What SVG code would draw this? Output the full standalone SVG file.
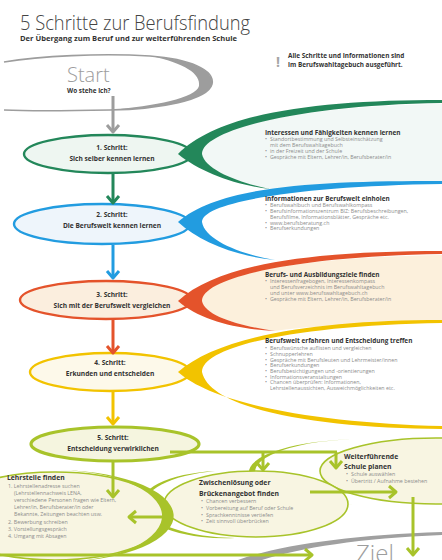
<svg xmlns="http://www.w3.org/2000/svg" width="442" height="560" viewBox="0 0 442 560">
<defs>
<style>
text { font-family: "Open Sans", "Liberation Sans", sans-serif; }
.ti { font-size: 21px; font-weight: 300; fill: #444; }
.sub { font-size: 6.2px; font-weight: bold; fill: #333; }
.st { font-size: 6.6px; font-weight: bold; fill: #333; text-anchor: middle; }
.hd { font-size: 6.4px; font-weight: bold; fill: #333; }
.bh { font-size: 6.8px; font-weight: bold; fill: #333; }
.bl { font-size: 5.3px; fill: #8c8c8c; }
.ln { fill: none; stroke-width: 3; }
.el { stroke-width: 2.4; }
</style>
<marker id="mg" markerUnits="userSpaceOnUse" markerWidth="16" markerHeight="16" refX="9" refY="8" orient="auto"><path d="M2,2 L9,8 L2,14" fill="none" stroke="#9d9d9d" stroke-width="3" stroke-linejoin="round"/></marker>
<marker id="mgr" markerUnits="userSpaceOnUse" markerWidth="16" markerHeight="16" refX="9" refY="8" orient="auto"><path d="M2,2 L9,8 L2,14" fill="none" stroke="#23875a" stroke-width="3" stroke-linejoin="round"/></marker>
<marker id="mb" markerUnits="userSpaceOnUse" markerWidth="16" markerHeight="16" refX="9" refY="8" orient="auto"><path d="M2,2 L9,8 L2,14" fill="none" stroke="#229ce0" stroke-width="3" stroke-linejoin="round"/></marker>
<marker id="mo" markerUnits="userSpaceOnUse" markerWidth="16" markerHeight="16" refX="9" refY="8" orient="auto"><path d="M2,2 L9,8 L2,14" fill="none" stroke="#e4532b" stroke-width="3" stroke-linejoin="round"/></marker>
<marker id="my" markerUnits="userSpaceOnUse" markerWidth="16" markerHeight="16" refX="9" refY="8" orient="auto"><path d="M2,2 L9,8 L2,14" fill="none" stroke="#f2c300" stroke-width="3" stroke-linejoin="round"/></marker>
<marker id="ml" markerUnits="userSpaceOnUse" markerWidth="16" markerHeight="16" refX="9" refY="8" orient="auto"><path d="M2,2 L9,8 L2,14" fill="none" stroke="#a8c32a" stroke-width="3" stroke-linejoin="round"/></marker>
</defs>
<rect width="442" height="560" fill="#ffffff"/>

<!-- title -->
<g id="title">
<text class="ti" x="20" y="30" textLength="230" lengthAdjust="spacingAndGlyphs">5 Schritte zur Berufsfindung</text>
<text class="sub" x="20" y="41" textLength="217" lengthAdjust="spacingAndGlyphs">Der Übergang zum Beruf und zur weiterführenden Schule</text>
</g>

<g id="note">
<text x="276" y="67" style="font-size:14px;font-weight:bold;fill:#a5a5a5">!</text>
<text class="hd" x="288" y="58">Alle Schritte und Informationen sind</text>
<text class="hd" x="288" y="67">im Berufswahltagebuch ausgeführt.</text>
</g>

<!-- content backgrounds -->
<path d="M202,154 C200,128 300,106 442,104 L442,183 C360,184 300,186 270,189 C240,183 205,170 202,154 Z" fill="#f2f8f6"/>
<path d="M202,301 C200,275 300,257 442,255 L442,322 C360,323 300,327 275,331 C240,326 205,316 202,301 Z" fill="#fcf0dc"/>

<!-- start -->
<g id="start">
<path d="M4,62 C40,56 100,53 150,56 C190,59 215,70 212,84 C208,100 160,109 110,110 C60,111 25,111 4,110" fill="none" stroke="#9d9d9d" stroke-width="1.6"/>
<path d="M150,56 C190,59 215,70 212,84 C208,100 160,109 110,110 C155,106 196,98 199,86 C201,74 185,63 150,56 Z" fill="#9d9d9d"/>
<text x="67" y="82" style="font-size:20px;font-weight:300;fill:#9d9d9d">Start</text>
<text class="hd" x="67" y="93">Wo stehe ich?</text>
</g>

<!-- step 1 -->
<g id="step1">
<ellipse cx="108" cy="154" rx="84" ry="19" fill="#eef6f1" stroke="#23875a" class="el"/>
<path d="M442,100 C320,100 220,112 178,154 C200,172 235,185 270,189 C240,183 205,170 202,154 C202,130 300,105 442,103 Z" fill="#23875a"/>
<text class="st" x="112" y="150">1. Schritt:</text>
<text class="st" x="112" y="161">Sich selber kennen lernen</text>
<text class="hd" x="265" y="135">Interessen und Fähigkeiten kennen lernen</text>
<text class="bl" x="265" y="141">•</text><text class="bl" x="270" y="141">Standortbestimmung und Selbsteinschätzung</text>
<text class="bl" x="270" y="147">mit dem Berufswahltagebuch</text>
<text class="bl" x="265" y="153">•</text><text class="bl" x="270" y="153">in der Freizeit und der Schule</text>
<text class="bl" x="265" y="159">•</text><text class="bl" x="270" y="159">Gespräche mit Eltern, Lehrer/in, Berufsberater/in</text>
</g>

<!-- step 2 -->
<g id="step2">
<ellipse cx="102" cy="224" rx="88" ry="20" fill="#eef5fb" stroke="#229ce0" class="el"/>
<path d="M442,181 C320,181 220,185 178,222 C200,242 235,256 275,260 C240,254 205,240 202,222 C202,202 300,186 442,184 Z" fill="#229ce0"/>
<text class="st" x="112" y="217">2. Schritt:</text>
<text class="st" x="112" y="228">Die Berufswelt kennen lernen</text>
<text class="hd" x="265" y="201">Informationen zur Berufswelt einholen</text>
<text class="bl" x="265" y="207">•</text><text class="bl" x="270" y="207">Berufswahlbuch und Berufswahlkompass</text>
<text class="bl" x="265" y="213">•</text><text class="bl" x="270" y="213">Berufsinformationszentrum BIZ: Berufsbeschreibungen,</text>
<text class="bl" x="270" y="218.5">Berufsfilme, Informationsblätter, Gespräche etc.</text>
<text class="bl" x="265" y="224.5">•</text><text class="bl" x="270" y="224.5">www.berufsberatung.ch</text>
<text class="bl" x="265" y="230">•</text><text class="bl" x="270" y="230">Berufserkundungen</text>
</g>

<!-- step 3 -->
<g id="step3">
<ellipse cx="106" cy="300" rx="86" ry="19" fill="#fbeede" stroke="#e4532b" class="el"/>
<path d="M442,251 C320,251 220,262 178,301 C200,320 235,329 275,331 C240,326 205,316 202,301 C202,277 300,256 442,254 Z" fill="#e4532b"/>
<text class="st" x="112" y="297">3. Schritt:</text>
<text class="st" x="112" y="308">Sich mit der Berufswelt vergleichen</text>
<text class="hd" x="265" y="277">Berufs- und Ausbildungsziele finden</text>
<text class="bl" x="265" y="283">•</text><text class="bl" x="270" y="283">Interessenfragebogen, Interessenkompass</text>
<text class="bl" x="270" y="289">und Berufsverzeichnis im Berufswahltagebuch</text>
<text class="bl" x="270" y="295">und unter www.berufswahltagebuch.ch</text>
<text class="bl" x="265" y="301">•</text><text class="bl" x="270" y="301">Gespräche mit Eltern, Lehrer/in, Berufsberater/in</text>
</g>

<!-- step 4 -->
<g id="step4">
<ellipse cx="110" cy="372" rx="80" ry="19" fill="#fdf9ea" stroke="#f2c300" class="el"/>
<path d="M442,320 C320,320 220,335 178,372 C215,405 320,423 442,426 L442,429 C320,428 210,410 202,372 C202,346 300,325 442,323 Z" fill="#f2c300"/>
<text class="st" x="110" y="365">4. Schritt:</text>
<text class="st" x="110" y="376">Erkunden und entscheiden</text>
<text class="hd" x="265" y="343">Berufswelt erfahren und Entscheidung treffen</text>
<text class="bl" x="265" y="350">•</text><text class="bl" x="270" y="350">Berufswünsche auflisten und vergleichen</text>
<text class="bl" x="265" y="356">•</text><text class="bl" x="270" y="356">Schnupperlehren</text>
<text class="bl" x="265" y="361.5">•</text><text class="bl" x="270" y="361.5">Gespräche mit Berufsleuten und Lehrmeister/innen</text>
<text class="bl" x="265" y="367">•</text><text class="bl" x="270" y="367">Berufserkundungen</text>
<text class="bl" x="265" y="373">•</text><text class="bl" x="270" y="373">Berufsbesichtigungen und -orientierungen</text>
<text class="bl" x="265" y="378.5">•</text><text class="bl" x="270" y="378.5">Informationsveranstaltungen</text>
<text class="bl" x="265" y="384">•</text><text class="bl" x="270" y="384">Chancen überprüfen: Informationen,</text>
<text class="bl" x="270" y="389.5">Lehrstellenaussichten, Ausweichmöglichkeiten etc.</text>
</g>

<!-- bottom: weiterfuehrende schule -->
<g id="schule">
<ellipse cx="436" cy="471" rx="116" ry="33" fill="#f8f5e2" stroke="#a8c32a" stroke-width="1.6"/>
<path d="M360,439 A116,33 0 0 0 370,505 A100,30 0 0 1 360,439 Z" fill="#a8c32a"/>
<text class="bh" x="344" y="459">Weiterführende</text>
<text class="bh" x="344" y="469">Schule planen</text>
<text class="bl" x="346" y="476">•</text><text class="bl" x="351" y="476">Schule auswählen</text>
<text class="bl" x="346" y="483">•</text><text class="bl" x="351" y="483">Übertritt / Aufnahme bestehen</text>
</g>

<!-- bottom: zwischenloesung -->
<g id="zwischen">
<ellipse cx="256" cy="504" rx="92" ry="33" fill="#f8f5e2" stroke="#a8c32a" stroke-width="1.6"/>
<path d="M215,471 A92,34 0 0 0 235,538 A78,31 0 0 1 215,471 Z" fill="#a8c32a"/>
<text class="bh" x="199" y="485">Zwischenlösung oder</text>
<text class="bh" x="199" y="496">Brückenangebot finden</text>
<text class="bl" x="201" y="503">•</text><text class="bl" x="206" y="503">Chancen verbessern</text>
<text class="bl" x="201" y="510">•</text><text class="bl" x="206" y="510">Vorbereitung auf Beruf oder Schule</text>
<text class="bl" x="201" y="516.5">•</text><text class="bl" x="206" y="516.5">Sprachkenntnisse vertiefen</text>
<text class="bl" x="201" y="523">•</text><text class="bl" x="206" y="523">Zeit sinnvoll überbrücken</text>
</g>

<!-- bottom: lehrstelle -->
<g id="lehrstelle">
<ellipse cx="55" cy="516" rx="114" ry="44" fill="#f8f5e2" stroke="#a8c32a" stroke-width="1.6"/>
<path d="M50,470 A116,45 0 0 1 60,562 A100,43 0 0 0 50,470 Z" fill="#a8c32a"/>
<text class="bh" x="7" y="480">Lehrstelle finden</text>
<text class="bl" x="8" y="488">1. Lehrstellenadresse suchen</text>
<text class="bl" x="14" y="495">(Lehrstellennachweis LENA,</text>
<text class="bl" x="14" y="502">verschiedene Personen fragen wie Eltern,</text>
<text class="bl" x="14" y="509">Lehrer/in, Berufsberater/in oder</text>
<text class="bl" x="14" y="516">Bekannte, Zeitungen beachten usw.</text>
<text class="bl" x="8" y="524">2. Bewerbung schreiben</text>
<text class="bl" x="8" y="531">3. Vorstellungsgespräch</text>
<text class="bl" x="8" y="538">4. Umgang mit Absagen</text>
</g>

<!-- step 5 -->
<g id="step5">
<ellipse cx="115" cy="444" rx="84" ry="17" fill="#f5f5df" stroke="#a8c32a" stroke-width="3.2"/>
<text class="st" x="113" y="440">5. Schritt:</text>
<text class="st" x="113" y="451">Entscheidung verwirklichen</text>
</g>

<!-- ziel -->
<g id="ziel">
<path d="M238,560 C280,545 350,535 442,532 L442,535 C360,538 300,548 262,560 Z" fill="#a0a0a0"/>
<text x="356" y="562" style="font-size:24px;font-weight:300;fill:#9d9d9d">Ziel</text>
</g>

<!-- connectors -->
<g id="connectors">
<line x1="113" y1="96" x2="113" y2="132" stroke="#9d9d9d" class="ln" marker-end="url(#mg)"/>
<line x1="113" y1="174" x2="113" y2="203" stroke="#23875a" class="ln" marker-end="url(#mgr)"/>
<line x1="113" y1="245" x2="113" y2="278" stroke="#229ce0" class="ln" marker-end="url(#mb)"/>
<line x1="113" y1="320" x2="113" y2="353" stroke="#e4532b" class="ln" marker-end="url(#mo)"/>
<line x1="113" y1="392" x2="113" y2="424" stroke="#f2c300" class="ln" marker-end="url(#my)"/>
<line x1="113" y1="462" x2="113" y2="497" stroke="#a8c32a" class="ln" marker-end="url(#ml)"/>
<path d="M170,452 L337,452" stroke="#a8c32a" class="ln"/>
<line x1="263" y1="452" x2="263" y2="470" stroke="#a8c32a" class="ln" marker-end="url(#ml)"/>
<line x1="336" y1="452" x2="336" y2="468" stroke="#a8c32a" class="ln" marker-end="url(#ml)"/>
<line x1="163" y1="517" x2="129" y2="517" stroke="#a8c32a" class="ln" marker-end="url(#ml)"/>
<line x1="310" y1="492" x2="396" y2="492" stroke="#a8c32a" class="ln" marker-end="url(#ml)"/>
<line x1="0" y1="555" x2="312" y2="555" stroke="#a8c32a" class="ln" marker-end="url(#ml)"/>
<line x1="413" y1="497" x2="413" y2="555" stroke="#a8c32a" class="ln" marker-end="url(#ml)"/>
</g>
</svg>
